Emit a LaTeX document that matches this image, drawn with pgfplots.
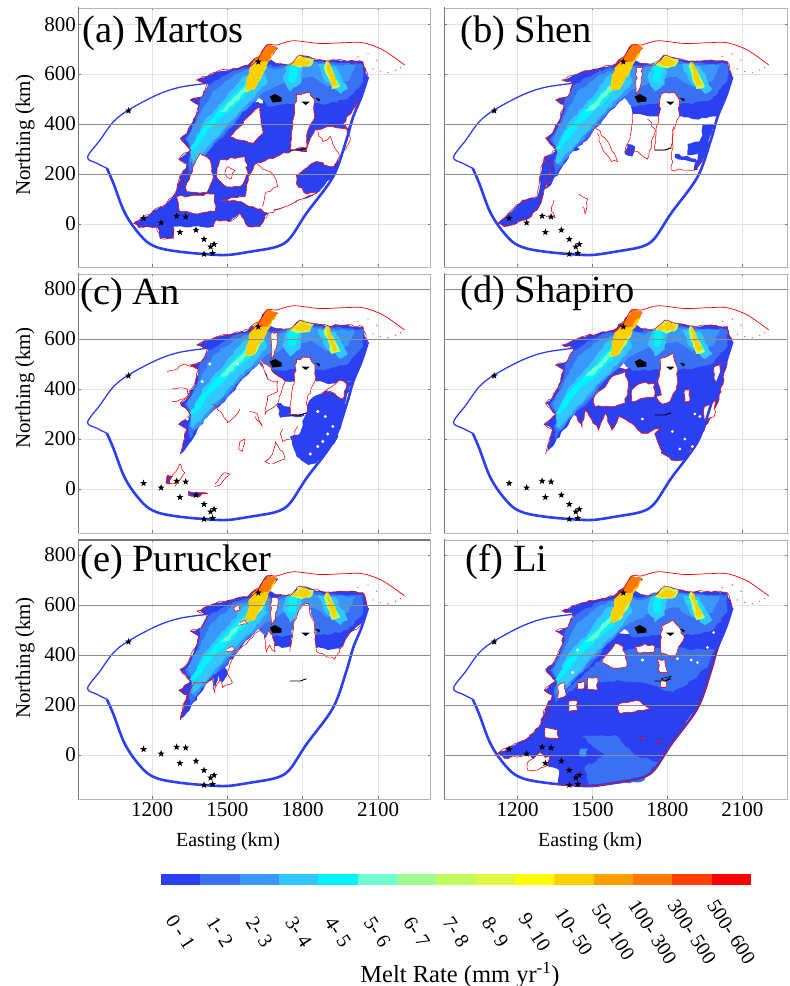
\documentclass[border=0pt]{standalone}
\usepackage{fontspec}
\setmainfont{Liberation Serif}
\usepackage{pgfplots}
\pgfplotsset{compat=1.18}
\usetikzlibrary{decorations.pathmorphing}
\pgfmathsetseed{42}
\definecolor{c0}{HTML}{2B40F0}\definecolor{c1}{HTML}{3A70F2}\definecolor{c2}{HTML}{3A98FA}
\definecolor{c3}{HTML}{30C8FF}\definecolor{c4}{HTML}{00F4FF}\definecolor{c5}{HTML}{70FFD0}
\definecolor{c6}{HTML}{A0FB90}\definecolor{c7}{HTML}{C0FB60}\definecolor{c8}{HTML}{E0F840}
\definecolor{c9}{HTML}{FFFF00}\definecolor{c10}{HTML}{FFD000}\definecolor{c11}{HTML}{FFA000}
\definecolor{c12}{HTML}{FF7800}\definecolor{c13}{HTML}{FF4000}\definecolor{c14}{HTML}{FF0000}
\definecolor{gridd}{HTML}{8C8C8C}\definecolor{gridl}{HTML}{E2E2E2}\definecolor{spine}{HTML}{777777}
\pgfdeclareplotmark{fstar}{%
 \pgfpathmoveto{\pgfpointpolar{90}{\pgfplotmarksize}}%
 \pgfpathlineto{\pgfpointpolar{126}{.42\pgfplotmarksize}}\pgfpathlineto{\pgfpointpolar{162}{\pgfplotmarksize}}%
 \pgfpathlineto{\pgfpointpolar{198}{.42\pgfplotmarksize}}\pgfpathlineto{\pgfpointpolar{234}{\pgfplotmarksize}}%
 \pgfpathlineto{\pgfpointpolar{270}{.42\pgfplotmarksize}}\pgfpathlineto{\pgfpointpolar{306}{\pgfplotmarksize}}%
 \pgfpathlineto{\pgfpointpolar{342}{.42\pgfplotmarksize}}\pgfpathlineto{\pgfpointpolar{18}{\pgfplotmarksize}}%
 \pgfpathlineto{\pgfpointpolar{54}{.42\pgfplotmarksize}}\pgfpathclose\pgfusepathqfill}
\pgfplotsset{rough/.style={decorate,decoration={random steps,segment length=4pt,amplitude=1.2pt}},
 hole/.style={rough,fill=white,draw=red,line width=.55pt,forget plot},
 zn/.style={rough,fill=#1,draw=none,forget plot},
 zb/.style={fill=#1,draw=none,forget plot},
 sq/.style={rough,draw=red,line width=.55pt,forget plot,fill=none}}
\pgfplotsset{panel/.style={scale only axis,width=#1,height=259pt,anchor=south west,
  xtick={1200,1500,1800,2100},ytick={0,200,400,600,800},
  xmajorgrids,ymajorgrids,grid style={gridl,line width=.6pt},
  tick style={draw=spine,line width=.5pt},major tick length=2.5pt,
  axis line style={draw=gridl!80!black,line width=.8pt},
  xmin=905,
  ticklabel style={font=\fontsize{21}{21}\selectfont},
  /pgf/number format/assume math mode=true,/pgf/number format/1000 sep={},
  yticklabels={},xticklabels={},
  }}
\newcommand\body{%
\addplot[zn=c0] coordinates {(1424,563)(1378,576)(1457,609)(1523,622)(1583,636)(1623,669)(1656,716)(1702,703)(1662,662)(1696,642)(1749,636)(1789,676)(1841,662)(1901,652)(1961,655)(2040,649)(2060,589)(2034,509)(2000,430)(1900,420)(1860,430)(1800,430)(1730,430)(1660,440)(1640,500)(1630,510)(1560,440)(1490,350)(1420,290)(1340,170)(1312,140)(1339,239)(1306,259)(1352,296)(1312,343)(1339,363)(1372,429)(1385,476)(1352,496)(1400,510)} --cycle;
\addplot[zn=c1] coordinates {(1390,500)(1424,555)(1530,615)(1640,640)(1700,630)(1790,660)(1900,645)(2040,640)(2040,570)(1980,500)(1900,480)(1750,480)(1660,470)(1625,505)(1555,440)(1485,350)(1415,290)(1350,200)(1345,250)(1360,295)(1330,340)(1350,365)(1385,445)} --cycle;
\addplot[zn=c2] coordinates {(1440,530)(1530,600)(1640,630)(1700,620)(1790,650)(1900,640)(2010,635)(1980,570)(1900,550)(1840,590)(1760,580)(1650,530)(1560,450)(1470,350)(1370,235)(1350,250)(1365,295)(1340,340)(1355,370)(1395,445)} --cycle;
\addplot[zn=c3] coordinates {(1640,620)(1560,590)(1490,500)(1400,400)(1355,300)(1360,240)(1400,285)(1470,360)(1540,440)(1610,510)(1660,570)} --cycle;
\addplot[zn=c3] coordinates {(1740,640)(1800,650)(1790,560)(1750,530)(1720,580)} --cycle;
\addplot[zn=c3] coordinates {(1860,640)(1930,630)(1980,540)(1950,520)(1890,570)} --cycle;
\addplot[zn=c4] coordinates {(1620,610)(1560,550)(1480,470)(1400,380)(1350,300)(1370,300)(1440,390)(1530,470)(1600,540)(1640,590)} --cycle;
\addplot[zn=c4] coordinates {(1745,630)(1785,640)(1770,570)(1745,570)} --cycle;
\addplot[zn=c4] coordinates {(1880,620)(1920,620)(1950,550)(1930,545)} --cycle;
\addplot[zn=c5] coordinates {(1620,600)(1550,530)(1470,450)(1500,455)(1570,530)(1630,580)} --cycle;
\addplot[zn=c7] coordinates {(1565,528)(1610,540)(1660,630)(1610,640)} --cycle;
\addplot[zn=c10] coordinates {(1570,533)(1603,536)(1696,696)(1663,716)(1623,669)(1590,629)} --cycle;
\addplot[zn=c12] coordinates {(1620,650)(1660,650)(1700,708)(1660,716)(1627,670)} --cycle;
\addplot[zn=c7] coordinates {(1745,636)(1790,675)(1845,660)(1830,630)(1790,625)} --cycle;
\addplot[zn=c10] coordinates {(1755,640)(1800,668)(1835,650)(1825,635)(1800,632)} --cycle;
\addplot[zn=c7] coordinates {(1895,655)(1950,550)(1915,540)(1885,630)} --cycle;
\addplot[zn=c10] coordinates {(1901,654)(1941,556)(1921,550)(1895,630)} --cycle;
\addplot[sq] coordinates {(1312,140)(1339,239)(1306,259)(1352,296)(1312,343)(1339,363)(1372,429)(1385,476)(1352,496)(1400,510)(1424,563)(1378,576)(1457,609)(1523,622)(1583,636)(1623,669)};
\addplot[sq] coordinates {(1696,642)(1749,636)(1789,676)(1841,662)(1901,652)(1961,655)(2040,649)(2060,589)};
}
\newcommand\slit{\addplot[hole] coordinates {(1675,627)(1702,627)(1688,540)(1675,520)} --cycle;}
\newcommand\holeA{\addplot[hole] coordinates {(1775,519)(1828,526)(1848,496)(1848,429)(1821,376)(1815,303)(1749,296)(1755,363)(1768,443)} --cycle;}
\newcommand\holeB{\addplot[hole] coordinates {(1583,429)(1629,469)(1642,363)(1603,323)(1550,336)(1510,350)(1550,390)} --cycle;}
\newcommand\outl[1]{%
\addplot[smooth,tension=.55,color=c0,line width=1.3pt,forget plot] coordinates {(1424,563)(1311,547)(1219,516)(1106,456)(1046,409)(993,336)(943,267)(980,243)(1020,223)};
\addplot[smooth,tension=.55,color=c0,line width=2.6pt,forget plot] coordinates {(1020,223)(1046,163)(1086,56)(1126,-11)(1179,-71)(1232,-97)(1311,-111)(1404,-120)(1497,-124)(1590,-111)(1696,-91)(1749,-57)(1815,43)(1921,189)(1974,336)(2001,429)(2034,509)(2060,589)};
\addplot[smooth,tension=.5,draw=red,line width=.7pt,forget plot] coordinates {(1590,629)(1623,662)(1656,716)(1696,716)(1762,733)(1868,722)(1961,725)(2040,725)(2120,696)(2206,636)};
\addplot[only marks,mark=*,mark size=.4pt,red!70,forget plot] coordinates {(2080,620)(2110,610)(2140,605)(2170,615)(2190,625)(2020,670)(2060,680)(2095,655)};
\addplot[fill=black,draw=none,forget plot] coordinates {(1669,510)(1690,520)(1716,505)(1716,490)(1680,486)} --cycle;
\addplot[fill=black,draw=none,forget plot] coordinates {(1795,489)(1828,489)(1812,476)} --cycle;
\addplot[fill=black,draw=none,forget plot] coordinates {(1850,505)(1870,500)(1865,490)} --cycle;
\addplot[draw=black,line width=.9pt,forget plot] coordinates {(1749,296)(1790,296)(1815,305)};
\addplot[only marks,mark=fstar,mark size=3.6pt,black,forget plot] coordinates {(1166,23)(1236,5)(1298,32)(1334,29)(1311,-33)(1375,-24)(1407,-61)(1447,-81)(1433,-91)(1407,-120)(1441,-117)(1623,649)(1106,453)};
\pgfplotsinvokeforeach{#1}{\addplot[color=gridd,line width=.8pt,forget plot] coordinates {(905,##1)(2400,##1)};}
\addplot[color=spine,line width=1.2pt,forget plot] coordinates {(905,-300)(905,900)};
}
\begin{document}
\begin{tikzpicture}[x=1pt,y=1pt]
\path[use as bounding box] (0,0) rectangle (790,986);
% (a)
\begin{axis}[panel=352pt,at={(78pt,719pt)},xmax=2307,ymin=-172,ymax=864]
\addplot[zn=c0] coordinates {(1318,203)(1298,136)(1258,83)(1126,3)(1146,-13)(1218,-11)(1232,-57)(1285,-57)(1285,-11)(1444,-11)(1457,16)(1510,9)(1550,43)(1583,-11)(1629,-11)(1663,43)(1855,123)(1921,189)(2001,429)(2034,509)(2000,500)(1500,480)(1420,300)(1345,240)} --cycle;
\addplot[sq] coordinates {(1318,203)(1298,136)(1258,83)(1126,3)(1146,-13)(1218,-11)(1232,-57)(1285,-57)(1285,-11)};
\addplot[sq] coordinates {(1444,-11)(1457,16)(1510,9)(1550,43)(1583,-11)(1629,-11)(1663,43)};
\body
\addplot[hole] coordinates {(1470,96)(1570,109)(1583,189)(1616,243)(1696,269)(1762,296)(1815,290)(1848,376)(1921,389)(1975,380)(1990,340)(1960,290)(1921,229)(1855,250)(1775,195)(1775,160)(1815,120)(1855,123)(1663,43)(1603,69)(1523,96)} --cycle;
\addplot[hole] coordinates {(1338,163)(1371,243)(1391,283)(1431,256)(1444,189)(1418,125)(1338,130)} --cycle;
\addplot[hole] coordinates {(1470,256)(1570,269)(1583,203)(1550,149)(1497,149)(1457,189)} --cycle;
\addplot[hole] coordinates {(1298,109)(1370,115)(1450,120)(1450,50)(1380,40)(1310,50)} --cycle;
\holeA\holeB
\addplot[hole] coordinates {(1960,400)(2010,470)(2020,500)(2005,430)(1980,380)} --cycle;
\addplot[zn=c0] coordinates {(1680,380)(1720,400)(1740,330)(1690,320)} --cycle;
\addplot[sq] coordinates {(1860,370)(1880,330)(1910,350)(1930,300)(1950,260)};
\addplot[sq] coordinates {(1620,240)(1640,220)(1680,200)(1700,150)(1650,120)(1640,70)};
\addplot[zn=c0] coordinates {(1440,140)(1470,150)(1475,120)(1450,110)} --cycle;
\addplot[sq] coordinates {(1500,230)(1530,215)(1510,180)(1490,200)(1500,230)};
\outl{400,200}
\end{axis}
% (b)
\begin{axis}[panel=343pt,at={(444pt,719pt)},xmax=2279,ymin=-172,ymax=864]
\addplot[zn=c0] coordinates {(1306,269)(1293,203)(1279,109)(1220,96)(1121,3)(1147,-11)(1246,23)(1286,69)(1312,149)(1346,243)(1405,323)(1450,300)} --cycle;
\addplot[sq] coordinates {(1306,269)(1293,203)(1279,109)(1220,96)(1121,3)(1147,-11)(1246,23)(1286,69)(1312,149)(1346,243)};
\body\slit\holeA
\addplot[zn=c0] coordinates {(1940,400)(1990,396)(1948,269)(1921,216)(1905,216)(1930,290)} --cycle;
\addplot[zn=c0] coordinates {(1880,320)(1945,340)(1950,285)(1880,275)} --cycle;
\addplot[zn=c0] coordinates {(1830,280)(1915,260)(1920,245)(1830,265)} --cycle;
\addplot[zn=c0] coordinates {(1630,280)(1660,270)(1670,310)(1640,320)} --cycle;
\addplot[sq] coordinates {(1520,363)(1545,290)(1575,250)(1600,250)(1560,330)(1510,390)};
\addplot[sq] coordinates {(1660,440)(1650,340)(1630,290)(1680,290)(1720,260)(1750,380)(1720,420)};
\addplot[sq] coordinates {(1825,390)(1815,216)(1910,216)(1950,270)};
\addplot[sq] coordinates {(1460,70)(1470,40)(1480,100)(1445,120)};
\addplot[sq] coordinates {(1305,35)(1350,25)(1335,50)(1345,95)};
\outl{400,200}
\end{axis}
% (c)
\begin{axis}[panel=352pt,at={(78pt,453pt)},xmax=2307,ymin=-176,ymax=860]
\addplot[zn=c0] coordinates {(1828,356)(1900,400)(1960,420)(2001,440)(1974,363)(1961,289)(1934,196)(1855,103)(1822,96)(1776,129)(1749,209)(1789,223)(1808,289)} --cycle;
\addplot[zn=c0] coordinates {(1699,343)(1780,320)(1808,295)(1710,285)} --cycle;
\body\slit\holeA
\addplot[hole] coordinates {(1630,510)(1640,500)(1660,440)(1700,430)(1700,390)(1660,370)(1650,300)(1700,340)(1730,430)(1640,510)} --cycle;
\addplot[hole] coordinates {(1880,380)(1910,390)(1960,360)(1975,420)(1945,435)(1900,400)} --cycle;
\addplot[only marks,mark=*,mark size=1.3pt,white,forget plot] coordinates {(1860,310)(1890,290)(1920,250)(1880,190)(1830,140)(1860,170)(1900,220)(1430,500)(1400,430)(1540,500)(1340,280)};
\addplot[hole,fill=c0] coordinates {(1260,50)(1280,50)(1270,20)(1255,25)} --cycle;
\addplot[sq] coordinates {(1290,10)(1330,65)(1310,100)(1280,50)(1260,55)(1258,20)(1300,25)};
\addplot[hole,fill=c0] coordinates {(1345,-10)(1395,-15)(1420,-18)(1380,-30)(1345,-25)} --cycle;
\addplot[sq] coordinates {(1450,20)(1490,65)(1510,60)(1470,15)(1450,10)};
\addplot[sq] coordinates {(1545,160)(1560,150)(1570,200)(1550,190)(1545,160)};
\addplot[sq] coordinates {(1680,100)(1730,120)(1720,150)(1690,190)(1680,140)(1650,110)(1670,100)};
\addplot[sq] coordinates {(1440,340)(1480,300)(1500,265)(1530,290)(1550,320)};
\addplot[sq] coordinates {(1610,290)(1640,250)(1620,300)(1590,310)};
\addplot[sq] coordinates {(1280,350)(1350,370)(1340,400)(1280,400)};
\addplot[sq] coordinates {(1260,470)(1300,480)(1330,500)(1380,480)};
\addplot[sq] coordinates {(1720,240)(1710,220)(1720,190)(1760,200)(1780,250)};
\outl{800,600}
\end{axis}
% (d)
\begin{axis}[panel=343pt,at={(444pt,453pt)},xmax=2279,ymin=-176,ymax=860]
\addplot[rough,fill=c0,draw=red,line width=.55pt,forget plot] coordinates {(1379,273)(1418,316)(1458,249)(1471,316)(1524,236)(1550,303)(1577,236)(1604,289)(1657,263)(1697,223)(1723,223)(1776,249)(1749,221)(1769,169)(1776,143)(1815,116)(1869,116)(1948,236)(2001,343)(2047,543)(2000,480)(1500,480)} --cycle;
\body
\addplot[hole] coordinates {(1504,363)(1551,409)(1577,449)(1630,469)(1643,409)(1630,343)(1571,329)(1511,329)} --cycle;
\addplot[hole] coordinates {(1657,396)(1696,423)(1749,423)(1749,369)(1696,363)(1657,349)} --cycle;
\addplot[hole] coordinates {(1776,523)(1822,543)(1842,476)(1835,396)(1810,350)(1780,340)(1755,370)(1776,376)(1762,436)} --cycle;
\addplot[hole] coordinates {(1869,396)(1888,396)(1888,349)(1869,349)} --cycle;
\addplot[hole] coordinates {(1987,489)(2014,503)(2001,423)(1987,443)} --cycle;
\addplot[hole] coordinates {(1948,329)(1994,356)(1987,289)(1948,276)} --cycle;
\addplot[only marks,mark=*,mark size=1.2pt,white,forget plot] coordinates {(1870,200)(1850,160)(1900,170)(1820,230)(1910,300)(1930,290)(1700,280)};
\outl{800,600}
\end{axis}
% (e)
\begin{axis}[panel=352pt,at={(78pt,187pt)},xmax=2307,ymin=-176,ymax=860,
  xticklabels={1200,1500,1800,2100}]
\body\slit
\addplot[zn=white] coordinates {(1749,413)(1762,520)(1795,593)(1822,607)(1848,507)(1855,413)(1855,370)(1749,370)} --cycle;
\addplot[sq] coordinates {(1749,413)(1762,520)(1795,593)(1822,607)(1848,507)(1855,413)};
\addplot[zn=white] coordinates {(1868,407)(1927,384)(1980,476)(2040,530)(2040,400)(1868,380)} --cycle;
\addplot[sq] coordinates {(1855,413)(1868,407)(1927,384)(1980,476)(2040,530)};
\addplot[hole] coordinates {(1656,413)(1649,467)(1665,500)(1680,480)(1690,413)(1668,440)} --cycle;
\addplot[hole] coordinates {(1500,425)(1520,435)(1530,420)(1505,415)} --cycle;
\addplot[hole] coordinates {(1550,530)(1570,540)(1580,525)(1555,520)} --cycle;
\addplot[hole] coordinates {(1525,590)(1545,600)(1550,580)(1530,575)} --cycle;
\addplot[sq] coordinates {(1320,180)(1340,240)(1370,290)(1420,290)(1440,310)(1450,250)(1470,310)(1480,270)(1520,290)(1500,330)(1530,400)(1600,470)(1640,510)};
\addplot[rough,fill=c0,draw=none,forget plot] coordinates {(1440,320)(1452,270)(1465,320)(1480,290)(1500,320)(1490,350)} --cycle;
\outl{600,400,200}
\addplot[color=spine,line width=1.2pt,forget plot] coordinates {(905,860)(2400,860)};
\end{axis}
% (f)
\begin{axis}[panel=343pt,at={(444pt,187pt)},xmax=2279,ymin=-176,ymax=860,
  xticklabels={1200,1500,1800,2100}]
\addplot[zn=c0] coordinates {(1318,203)(1286,113)(1246,73)(1121,7)(1147,-13)(1233,0)(1286,-20)(1326,-47)(1365,-60)(1360,-115)(1404,-120)(1497,-124)(1590,-111)(1696,-91)(1749,-57)(1815,43)(1921,189)(1974,336)(2001,429)(2034,509)(2000,500)(1500,480)(1420,300)(1345,240)} --cycle;
\addplot[zn=c1] coordinates {(1345,200)(1440,280)(1600,300)(1700,290)(1820,250)(1900,300)(1960,350)(1990,420)(1900,430)(1700,430)(1550,400)(1420,280)} --cycle;
\addplot[zn=c1] coordinates {(1458,73)(1590,80)(1670,0)(1763,-27)(1696,-107)(1485,-120)(1470,-47)(1550,0)} --cycle;
\addplot[zn=c2] coordinates {(1450,25)(1480,25)(1475,-5)(1450,-5)} --cycle;
\body
\addplot[sq] coordinates {(1318,203)(1286,113)(1246,73)(1121,7)(1147,-13)(1233,0)};
\addplot[hole] coordinates {(1590,447)(1623,433)(1637,353)(1590,347)(1537,373)} --cycle;
\addplot[hole] coordinates {(1776,513)(1822,540)(1868,473)(1828,393)(1776,407)} --cycle;
\addplot[hole] coordinates {(1760,385)(1790,380)(1800,330)(1770,330)} --cycle;
\addplot[hole] coordinates {(1670,433)(1710,445)(1750,433)(1740,410)(1680,410)} --cycle;
\addplot[hole] coordinates {(1360,275)(1385,290)(1395,240)(1360,225)} --cycle;
\addplot[hole] coordinates {(1440,290)(1465,295)(1465,265)(1440,265)} --cycle;
\addplot[hole] coordinates {(1480,310)(1520,310)(1520,260)(1480,265)} --cycle;
\addplot[hole] coordinates {(1600,200)(1640,210)(1690,215)(1730,185)(1660,170)(1610,165)} --cycle;
\addplot[hole] coordinates {(1310,110)(1360,100)(1365,65)(1310,70)} --cycle;
\addplot[hole] coordinates {(1405,215)(1440,215)(1440,180)(1405,175)} --cycle;
\addplot[hole] coordinates {(1240,-30)(1290,10)(1310,-10)(1330,-5)(1320,-40)(1280,-60)(1240,-60)} --cycle;
\addplot[hole] coordinates {(1775,300)(1795,300)(1795,270)(1775,270)} --cycle;
\addplot[only marks,mark=*,mark size=1.3pt,white,forget plot] coordinates {(1895,380)(1920,370)(1960,430)(1985,490)(1700,380)(1840,385)(1440,420)(1420,330)};
\addplot[only marks,mark=*,mark size=1.3pt,red,forget plot] coordinates {(1700,68)(1765,52)};
\outl{400,200,0}
\addplot[smooth,tension=.55,draw=red,line width=.7pt,forget plot] coordinates {(1360,-115)(1497,-124)(1590,-111)(1696,-91)(1749,-57)(1815,43)(1921,189)(1974,336)(2001,429)};
\addplot[draw=black,line width=.5pt,forget plot] coordinates {(1775,305)(1815,315)(1790,295)(1775,305)};
\end{axis}
% colour scale
\begin{axis}[scale only axis,width=590pt,height=11pt,at={(161pt,101pt)},anchor=south west,
  xmin=0,xmax=15,ymin=0,ymax=1,ytick=\empty,axis line style={draw=none},major tick length=0pt,
  xtick={.5,1.5,2.5,3.5,4.5,5.5,6.5,7.5,8.5,9.5,10.5,11.5,12.5,13.5,14.5},
  xticklabels={0 - 1,1- 2,2- 3,3- 4,4- 5,5- 6,6- 7,7- 8,8- 9,9- 10,10- 50,50- 100,100- 300,300- 500,500- 600},
  xticklabel style={font=\fontsize{20}{20}\selectfont,yshift=-47pt,rotate=-57,anchor=center}]
\addplot[zb=c0] coordinates {(0,0)(1,0)(1,1)(0,1)} --cycle;
\addplot[zb=c1] coordinates {(1,0)(2,0)(2,1)(1,1)} --cycle;
\addplot[zb=c2] coordinates {(2,0)(3,0)(3,1)(2,1)} --cycle;
\addplot[zb=c3] coordinates {(3,0)(4,0)(4,1)(3,1)} --cycle;
\addplot[zb=c4] coordinates {(4,0)(5,0)(5,1)(4,1)} --cycle;
\addplot[zb=c5] coordinates {(5,0)(6,0)(6,1)(5,1)} --cycle;
\addplot[zb=c6] coordinates {(6,0)(7,0)(7,1)(6,1)} --cycle;
\addplot[zb=c7] coordinates {(7,0)(8,0)(8,1)(7,1)} --cycle;
\addplot[zb=c8] coordinates {(8,0)(9,0)(9,1)(8,1)} --cycle;
\addplot[zb=c9] coordinates {(9,0)(10,0)(10,1)(9,1)} --cycle;
\addplot[zb=c10] coordinates {(10,0)(11,0)(11,1)(10,1)} --cycle;
\addplot[zb=c11] coordinates {(11,0)(12,0)(12,1)(11,1)} --cycle;
\addplot[zb=c12] coordinates {(12,0)(13,0)(13,1)(12,1)} --cycle;
\addplot[zb=c13] coordinates {(13,0)(14,0)(14,1)(13,1)} --cycle;
\addplot[zb=c14] coordinates {(14,0)(15,0)(15,1)(14,1)} --cycle;
\end{axis}
% text
\foreach \lab/\xx/\yy in {(a) Martos/82/943,(b) Shen/460/943,(c) An/80/681,(d) Shapiro/460/683,(e) Purucker/80/414,(f) Li/465/414}
 \node[anchor=base west,inner sep=0pt,font=\fontsize{38.5}{38.5}\selectfont] at (\xx,\yy) {\lab};
\foreach \t/\yy in {800/961,600/912,400/862,200/812,0/762,800/697,600/647,400/597,200/547,0/497,800/431,600/381,400/331,200/281,0/231}
 \node[anchor=east,inner sep=0pt,font=\fontsize{21}{21}\selectfont] at (76,\yy) {\t};
\foreach \yy in {851,598,328}
 \node[rotate=90,inner sep=0pt,font=\fontsize{21}{21}\selectfont] at (25,\yy) {Northing (km)};
\foreach \xx in {228,590}
 \node[inner sep=0pt,font=\fontsize{20}{20}\selectfont] at (\xx,144) {Easting (km)};
\node[inner sep=0pt,font=\fontsize{24.5}{24.5}\selectfont] at (460,11) {Melt Rate (mm yr\textsuperscript{-1})};
\end{tikzpicture}
\end{document}
